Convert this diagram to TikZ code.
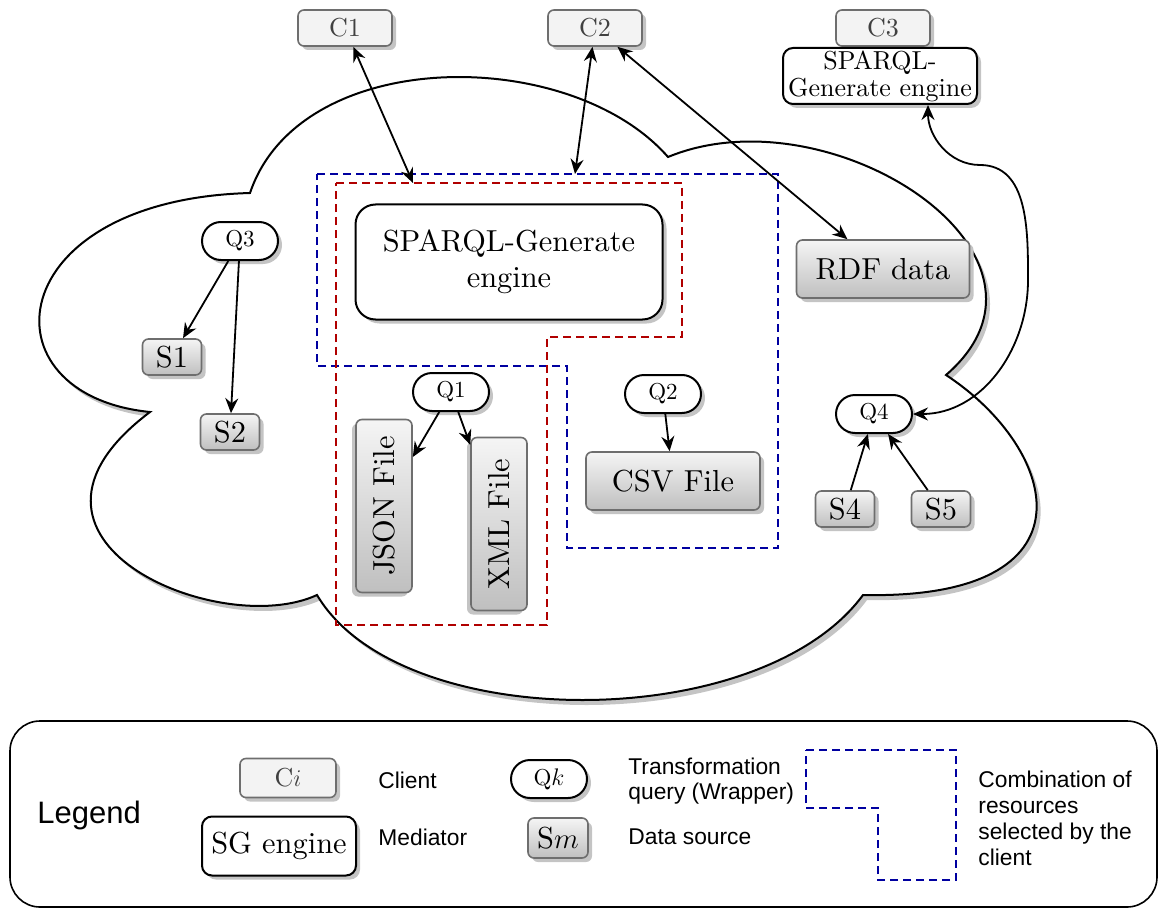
\documentclass[tikz,border=0pt]{standalone}
\usepackage{fontspec}
\setmainfont{lmroman10-regular.otf}[ItalicFont=lmroman10-italic.otf,BoldFont=lmroman10-bold.otf]
\newfontfamily\legendfont{Liberation Sans}
\usetikzlibrary{shadows,arrows.meta,calc}
\definecolor{clientfill}{HTML}{F3F3F3}
\definecolor{boxborder}{HTML}{6E6E6E}
\definecolor{dblue}{HTML}{0000A0}
\definecolor{dred}{HTML}{B00000}
\newcommand{\fbig}{\fontsize{15.2}{18}\selectfont}
\newcommand{\fmid}{\fontsize{13}{13.5}\selectfont}
\newcommand{\fsmall}{\fontsize{11.5}{13}\selectfont}
\newcommand{\flegend}{\legendfont\fontsize{11.4}{13}\selectfont}
\begin{document}
\begin{tikzpicture}[x=0.5pt,y=-0.5pt,
  >={Stealth[length=7.5pt,width=6.5pt,inset=2.5pt]},
  shadowed/.style={drop shadow={shadow xshift=2pt,shadow yshift=-2pt,fill=black!23,opacity=1}},
  rshadowed/.style={drop shadow={shadow xshift=-2pt,shadow yshift=-2pt,fill=black!23,opacity=1}},
  client/.style={shadowed, draw=boxborder, fill=clientfill, line width=0.8pt, rounded corners=3pt,
    minimum width=47pt, minimum height=18pt, inner sep=0pt, text=black!75, font=\fmid},
  mediator/.style={shadowed, draw=black, fill=white, line width=1pt, rounded corners=5pt,
    inner sep=0pt, align=center},
  query/.style={shadowed, draw=black, fill=white, line width=1pt, rounded corners=9.5pt,
    minimum width=38pt, minimum height=19pt, inner sep=0pt, font=\fsmall},
  sourcebase/.style={draw=boxborder, top color=gray!8, bottom color=gray!50, line width=0.8pt,
    rounded corners=3pt, inner sep=0pt, font=\fbig},
  source/.style={sourcebase, shadowed},
  rsource/.style={sourcebase, rshadowed, rotate=90, minimum width=86.5pt, minimum height=28pt},
  conn/.style={line width=0.9pt, ->},
  bconn/.style={line width=0.9pt, <->},
  bluebox/.style={draw=dblue, line width=0.8pt, dash pattern=on 4pt off 2.5pt},
  redbox/.style={draw=dred, line width=0.8pt, dash pattern=on 4pt off 2.5pt},
  legtext/.style={anchor=west, align=left, inner sep=0pt, font=\flegend}
]
\useasboundingbox (0,0) rectangle (1160,909);

% cloud
\draw[line width=1pt, fill=white,
  drop shadow={shadow xshift=2pt,shadow yshift=-2.5pt,fill=black!23,opacity=1}]
  (250,193)
  .. controls (300,45) and (570,45) .. (668,157)
  .. controls (830,90) and (1085,255) .. (946,375)
  .. controls (1060,450) and (1100,600) .. (863,595)
  .. controls (760,735) and (400,735) .. (317,595)
  .. controls (220,640) and (-20,540) .. (150,412)
  .. controls (-20,395) and (0,200) .. (250,193) -- cycle;

% dashed selections
\draw[bluebox] (317,174) -- (778,174) -- (778,548) -- (567,548) -- (567,366) -- (317,366) -- cycle;
\draw[redbox] (336,183) -- (682,183) -- (682,337) -- (547,337) -- (547,625) -- (336,625) -- cycle;
\coordinate (redtop) at (413,183);
\coordinate (bluetop) at (575,174);

% clients
\node[client] (c1) at (345,28) {C1};
\node[client] (c2) at (595,28) {C2};
\node[client] (c3) at (883,28) {C3};
\node[mediator, minimum width=97pt, minimum height=28pt, font=\fmid] (med3) at (880,76) {SPARQL-\\Generate engine};

% main engine and sources
\node[mediator, rounded corners=10pt, minimum width=153.5pt, minimum height=57.5pt, font=\fbig] (sg) at (509,262) {SPARQL-Generate\\engine};
\node[source, minimum width=86.5pt, minimum height=29pt] (rdf) at (883,269) {RDF data};
\node[source, minimum width=87pt, minimum height=29pt] (csv) at (673,481) {CSV File};
\node[rsource] (json) at (384,506) {JSON File};
\node[rsource] (xml) at (499,524) {XML File};

\node[query] (q1) at (451,392) {Q1};
\node[query] (q2) at (663,394) {Q2};
\node[query] (q3) at (240,241) {Q3};
\node[query] (q4) at (874,414) {Q4};

\node[source, minimum width=29.5pt, minimum height=18pt] (s1) at (172,357) {S1};
\node[source, minimum width=29.5pt, minimum height=18pt] (s2) at (230,432) {S2};
\node[source, minimum width=29.5pt, minimum height=18pt] (s4) at (845,509) {S4};
\node[source, minimum width=29.5pt, minimum height=18pt] (s5) at (941,509) {S5};

% connectors
\draw[bconn] (c1) -- (redtop);
\draw[bconn] (c2) -- (bluetop);
\draw[bconn] (c2) -- (rdf);
\draw[bconn] ($(med3.south)+(48,0)$) to[out=-90,in=180] (980,165) to[out=0,in=90] (1028,280) to[out=-90,in=0] (q4.east);
\draw[conn] (q3) -- (s1);
\draw[conn] (q3) -- (s2);
\draw[conn] (q1) -- (json);
\draw[conn] (q1) -- (xml);
\draw[conn] (q2) -- (csv);
\draw[conn] (s4) -- (q4);
\draw[conn] (s5) -- (q4);

% legend
\draw[line width=0.8pt, rounded corners=15pt] (10,721) rectangle (1157,907);
\node[anchor=west, inner sep=0pt, font=\legendfont\fontsize{15.5}{17}\selectfont] (leg) at (37,815) {Legend};
\node[client, minimum width=48pt, minimum height=19.5pt] (lc) at (288,778) {C$i$};
\node[mediator, minimum width=77pt, minimum height=29.5pt, font=\fbig] (lsg) at (279,846) {SG engine};
\node[query] (lq) at (549,779) {Q$k$};
\node[source, minimum width=30pt, minimum height=20pt] (ls) at (558,838) {S$m$};
\node[legtext] (lct) at (378,780) {Client};
\node[legtext] (lmt) at (378,837) {Mediator};
\node[legtext, font=\legendfont\fontsize{11.4}{12.5}\selectfont] (lqt) at (628,781) {Transformation\\query (Wrapper)};
\node[legtext] (lst) at (628,837) {Data source};
\draw[bluebox] (806,750) -- (956,750) -- (956,880) -- (878,880) -- (878,808) -- (806,808) -- cycle;
\node[legtext] (lbt) at (978,818) {Combination of\\resources\\selected by the\\client};
\end{tikzpicture}
\end{document}
